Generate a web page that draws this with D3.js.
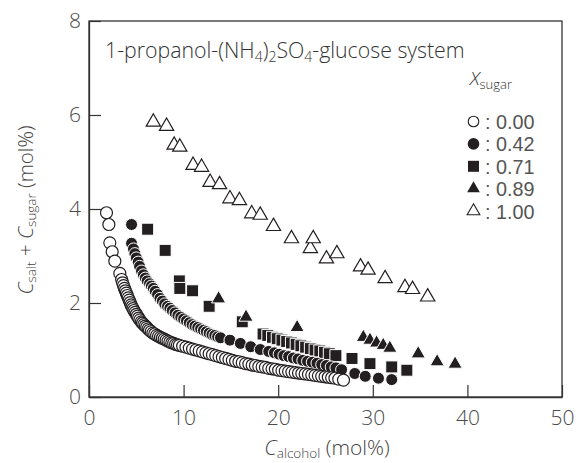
<!DOCTYPE html>
<html>
<head>
<meta charset="utf-8">
<script src="https://cdn.jsdelivr.net/npm/d3@7/dist/d3.min.js"></script>
<style>
  html, body { margin: 0; padding: 0; background: #fff; }
  svg { display: block; }
  text { font-family: "Open Sans", "Noto Sans", sans-serif; font-weight: 300; }
</style>
</head>
<body>
<svg id="chart" width="581" height="463"></svg>
<script>
// ---- data (C_alcohol, C_salt + C_sugar) ----
const xTickValues = [0, 10, 20, 30, 40, 50];
const yTickValues = [0, 2, 4, 6, 8];
const legendLabels = ["0.00", "0.42", "0.71", "0.89", "1.00"];

const sugar000 = [
  [1.85,3.92],[2.10,3.67],[2.20,3.28],[2.45,3.09],[2.73,2.89],[3.26,2.63],
  [3.45,2.50],[3.55,2.43],[3.65,2.37],[3.75,2.31],[3.85,2.26],[3.95,2.21],
  [4.05,2.16],[4.15,2.11],[4.25,2.06],[4.35,2.01],[4.45,1.96],[4.55,1.92],
  [4.65,1.88],[4.75,1.84],[4.87,1.80],[5.00,1.76],[5.12,1.72],[5.25,1.68],
  [5.38,1.64],[5.52,1.60],[5.66,1.57],[5.80,1.54],[5.95,1.51],[6.10,1.48],
  [6.25,1.45],[6.40,1.42],[6.58,1.39],[6.76,1.36],[6.95,1.34],[7.15,1.31],
  [7.35,1.29],[7.55,1.27],[7.75,1.25],[7.95,1.23],[8.15,1.21],[8.35,1.19],
  [8.55,1.17],[8.75,1.15],[8.95,1.14],[9.15,1.12],[9.35,1.11],[9.55,1.10],
  [9.90,1.08],[10.25,1.06],[10.60,1.04],[10.95,1.02],[11.30,1.00],[11.65,0.98],
  [12.00,0.96],[12.35,0.94],[12.70,0.92],[13.05,0.90],[13.40,0.88],[13.75,0.86],
  [14.10,0.84],[14.45,0.82],[14.80,0.80],[15.15,0.78],[15.50,0.76],[15.85,0.75],
  [16.20,0.73],[16.55,0.71],[16.90,0.70],[17.25,0.68],[17.60,0.67],[17.95,0.65],
  [18.30,0.64],[18.65,0.63],[19.00,0.61],[19.35,0.60],[19.70,0.59],[20.05,0.57],
  [20.40,0.56],[20.75,0.55],[21.10,0.54],[21.45,0.53],[21.80,0.52],[22.15,0.51],
  [22.50,0.50],[22.85,0.49],[23.20,0.48],[23.55,0.47],[23.90,0.46],[24.25,0.45],
  [24.60,0.44],[24.95,0.43],[25.30,0.42],[25.65,0.41],[26.00,0.40],[26.40,0.38],
  [26.90,0.36]
];

const sugar042 = [
  [4.50,3.67],[4.50,3.27],[4.70,3.15],[4.85,3.05],[5.00,2.96],[5.20,2.87],
  [5.35,2.78],[5.55,2.68],[5.75,2.60],[5.95,2.53],[6.15,2.47],[6.40,2.41],
  [6.60,2.36],[6.80,2.31],[7.00,2.25],[7.25,2.18],[7.50,2.10],[7.75,2.04],
  [8.00,1.98],[8.30,1.93],[8.55,1.89],[8.80,1.84],[9.10,1.79],[9.40,1.74],
  [9.70,1.70],[10.00,1.66],[10.30,1.62],[10.60,1.58],[10.90,1.54],[11.20,1.51],
  [11.50,1.48],[11.80,1.45],[12.10,1.42],[12.40,1.39],[12.70,1.36],[13.00,1.33],
  [13.30,1.31],[13.60,1.28],[13.90,1.26],[14.90,1.21],[16.00,1.14],[17.10,1.07],
  [18.10,1.01],[19.00,0.97],[19.60,0.94],[20.10,0.91],[20.60,0.88],[21.10,0.86],
  [21.60,0.83],[22.10,0.81],[22.60,0.78],[23.10,0.76],[23.60,0.74],[24.10,0.72],
  [24.60,0.69],[25.10,0.67],[25.60,0.64],[26.10,0.62],[26.70,0.58],[28.10,0.50],
  [29.20,0.44],[30.60,0.40],[32.00,0.37]
];

const sugar071 = [
  [6.20,3.57],[8.05,3.12],[9.55,2.47],[9.60,2.31],[10.95,2.26],[12.70,1.93],
  [16.20,1.60],[18.40,1.34],[18.90,1.31],[19.40,1.27],[19.90,1.24],[20.40,1.21],
  [20.90,1.18],[21.40,1.15],[21.90,1.12],[22.40,1.09],[22.90,1.06],[23.40,1.03],
  [23.90,1.00],[24.40,0.98],[24.90,0.95],[25.40,0.92],[26.10,0.88],[27.80,0.82],
  [29.70,0.71],[32.00,0.64],[33.60,0.57]
];

const sugar089 = [
  [13.70,2.09],[16.60,1.70],[22.00,1.48],[29.00,1.27],[29.70,1.21],[30.40,1.15],
  [31.10,1.10],[31.80,1.04],[34.80,0.92],[36.80,0.75],[38.70,0.70]
];

const sugar100 = [
  [6.80,5.85],[8.20,5.76],[9.00,5.36],[9.60,5.32],[11.00,4.93],[11.90,4.89],
  [12.80,4.57],[13.80,4.52],[14.90,4.22],[15.90,4.18],[17.20,3.90],[18.10,3.87],
  [19.50,3.63],[21.40,3.37],[23.40,3.16],[23.70,3.37],[25.10,2.94],[26.20,3.05],
  [28.70,2.77],[29.50,2.70],[31.30,2.52],[33.40,2.33],[34.20,2.29],[35.80,2.13]
];

// ---- layout ----
const svg = d3.select("#chart");
const plotL = 89, plotR = 562, plotT = 21, plotB = 397;
const x = d3.scaleLinear().domain([0, 50]).range([plotL, plotR]);
const y = d3.scaleLinear().domain([0, 8]).range([plotB, plotT]);
const ink = "#231f20";
const axisInk = "#333";
const labelInk = "#4a4a4a";
const fontFam = '"Open Sans", "Noto Sans", sans-serif';

// frame
svg.append("rect")
  .attr("x", plotL).attr("y", plotT)
  .attr("width", plotR - plotL).attr("height", plotB - plotT)
  .attr("fill", "none").attr("stroke", axisInk).attr("stroke-width", 1.3);

// axes (inward ticks)
const gx = svg.append("g").attr("transform", `translate(0,${plotB})`)
  .call(d3.axisBottom(x).tickValues(xTickValues).tickSize(-12).tickSizeOuter(0).tickPadding(13).tickFormat(d3.format("d")));
const gy = svg.append("g").attr("transform", `translate(${plotL},0)`)
  .call(d3.axisLeft(y).tickValues(yTickValues).tickSize(-12).tickSizeOuter(0).tickPadding(8).tickFormat(d3.format("d")));
[gx, gy].forEach(g => {
  g.select(".domain").attr("stroke", axisInk).attr("stroke-width", 1.3);
  g.selectAll(".tick line").attr("stroke", axisInk).attr("stroke-width", 1.2);
  g.selectAll(".tick text").attr("fill", labelInk)
    .style("font-family", fontFam).style("font-weight", 300).style("font-size", "21px");
});

// markers
const circleSym = d3.symbol().type(d3.symbolCircle).size(Math.PI * 36);
const squareSym = d3.symbol().type(d3.symbolSquare).size(144);
const triSym = d3.symbol().type(d3.symbolTriangle).size(88);

function drawSeries(data, sym, fill, stroke, sw) {
  svg.append("g").selectAll("path").data(data).join("path")
    .attr("d", sym)
    .attr("transform", d => `translate(${x(d[0])},${y(d[1])})`)
    .attr("fill", fill).attr("stroke", stroke).attr("stroke-width", sw);
}
drawSeries(sugar100, triSym, "#fff", ink, 1.2);
drawSeries(sugar071, squareSym, ink, "#fff", 1);
drawSeries(sugar089, triSym, ink, "#fff", 1);
drawSeries(sugar042, circleSym, ink, "#fff", 1);
drawSeries(sugar000, circleSym, "#fff", ink, 1.2);

// title inside plot
const title = svg.append("text").attr("x", 105).attr("y", 58)
  .attr("fill", "#333").style("font-size", "21.3px");
title.append("tspan").text("1-propanol-(NH");
title.append("tspan").text("4").style("font-size", "14px").attr("dy", 4);
title.append("tspan").text(")").attr("dy", -4);
title.append("tspan").text("2").style("font-size", "14px").attr("dy", 4);
title.append("tspan").text("SO").attr("dy", -4);
title.append("tspan").text("4").style("font-size", "14px").attr("dy", 4);
title.append("tspan").text("-glucose system").attr("dy", -4);

// legend
const lg = svg.append("g");
const lt = lg.append("text").attr("x", 470).attr("y", 85).attr("fill", "#333").style("font-size", "19px");
lt.append("tspan").text("X").style("font-style", "italic");
lt.append("tspan").text("sugar").style("font-size", "13px").attr("dy", 4);

const legendSyms = [
  { sym: d3.symbol().type(d3.symbolCircle).size(Math.PI * 28), fill: "#fff", stroke: ink },
  { sym: d3.symbol().type(d3.symbolCircle).size(Math.PI * 34), fill: ink, stroke: "none" },
  { sym: d3.symbol().type(d3.symbolSquare).size(121), fill: ink, stroke: "none" },
  { sym: d3.symbol().type(d3.symbolTriangle).size(70), fill: ink, stroke: "none" },
  { sym: d3.symbol().type(d3.symbolTriangle).size(70), fill: "#fff", stroke: ink }
];
const legendBase0 = 129, legendStep = 22.4;
legendSyms.forEach((s, i) => {
  lg.append("path").attr("d", s.sym)
    .attr("transform", `translate(473.5,${legendBase0 + i * legendStep - 7.5})`)
    .attr("fill", s.fill).attr("stroke", s.stroke).attr("stroke-width", 1.1);
});
legendLabels.forEach((lab, i) => {
  lg.append("text").attr("x", 485).attr("y", legendBase0 + i * legendStep)
    .attr("fill", "#555")
    .style("font-family", '"Liberation Sans", Arial, sans-serif')
    .style("font-weight", 400).style("font-size", "19.8px")
    .text(": " + lab);
});

// axis titles
const xt = svg.append("text").attr("x", 327).attr("y", 455).attr("text-anchor", "middle")
  .attr("fill", "#444").style("font-size", "21px");
xt.append("tspan").text("C").style("font-style", "italic");
xt.append("tspan").text("alcohol").style("font-size", "13.5px").attr("dy", 3);
xt.append("tspan").text(" (mol%)").attr("dy", -3);

const yt = svg.append("text").attr("transform", "translate(33,210) rotate(-90)")
  .attr("text-anchor", "middle").attr("fill", "#444").style("font-size", "20.5px");
yt.append("tspan").text("C").style("font-style", "italic");
yt.append("tspan").text("salt").style("font-size", "13.5px").attr("dy", 3);
yt.append("tspan").text(" + ").attr("dy", -3);
yt.append("tspan").text("C").style("font-style", "italic");
yt.append("tspan").text("sugar").style("font-size", "13.5px").attr("dy", 3);
yt.append("tspan").text(" (mol%)").attr("dy", -3);
</script>
</body>
</html>
